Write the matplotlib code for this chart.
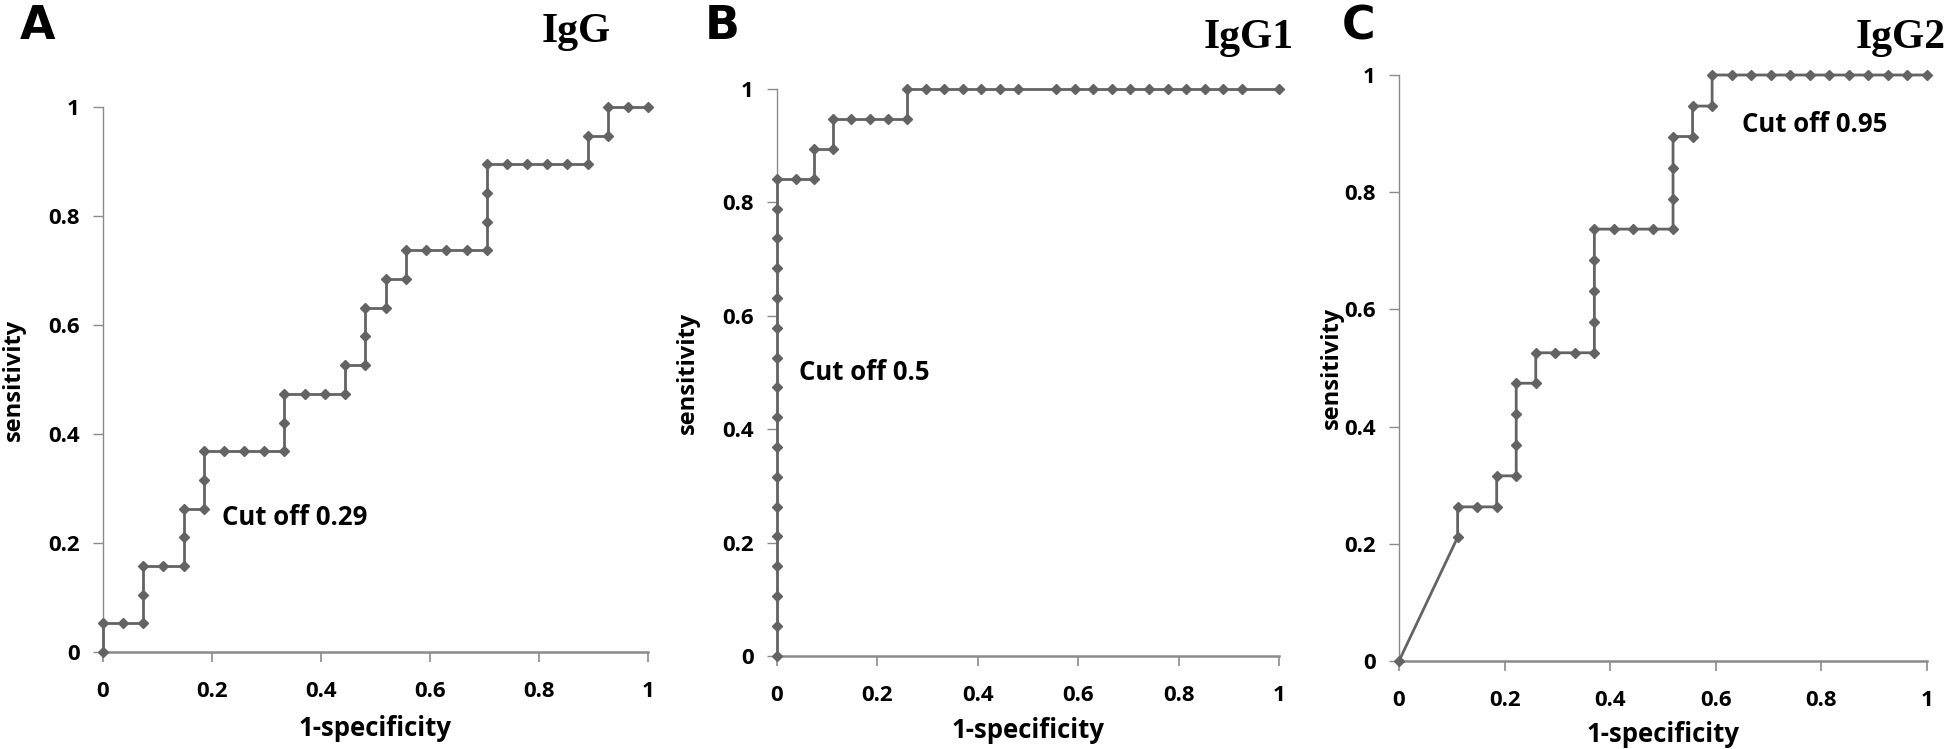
import matplotlib
matplotlib.use("Agg")
import matplotlib.pyplot as plt

# ---------------- data ----------------
igg_x = [0, 0, 0.037, 0.074, 0.074, 0.074, 0.111, 0.148, 0.148, 0.148, 0.185, 0.185, 0.185,
         0.222, 0.259, 0.296, 0.333, 0.333, 0.333, 0.370, 0.407, 0.444, 0.444, 0.481, 0.481,
         0.481, 0.519, 0.519, 0.556, 0.556, 0.593, 0.630, 0.667, 0.704, 0.704, 0.704, 0.704,
         0.741, 0.778, 0.815, 0.852, 0.889, 0.889, 0.926, 0.926, 0.963, 1.0]
igg_y = [0, 0.053, 0.053, 0.053, 0.105, 0.158, 0.158, 0.158, 0.211, 0.263, 0.263, 0.316, 0.368,
         0.368, 0.368, 0.368, 0.368, 0.421, 0.474, 0.474, 0.474, 0.474, 0.526, 0.526, 0.579,
         0.632, 0.632, 0.684, 0.684, 0.737, 0.737, 0.737, 0.737, 0.737, 0.789, 0.842, 0.895,
         0.895, 0.895, 0.895, 0.895, 0.895, 0.947, 0.947, 1.0, 1.0, 1.0]

igg1_x = [0] * 17 + [0.037, 0.074, 0.074, 0.111, 0.111, 0.148, 0.185, 0.222, 0.259, 0.259,
                     0.296, 0.333, 0.370, 0.407, 0.444, 0.481, 0.556, 0.593, 0.630, 0.667,
                     0.704, 0.741, 0.778, 0.815, 0.852, 0.889, 0.926, 1.0]
igg1_y = [0, 0.053, 0.105, 0.158, 0.211, 0.263, 0.316, 0.368, 0.421, 0.474, 0.526, 0.579,
          0.632, 0.684, 0.737, 0.789, 0.842,
          0.842, 0.842, 0.895, 0.895, 0.947, 0.947, 0.947, 0.947, 0.947, 1.0] + [1.0] * 18

igg2_x = [0, 0.111, 0.111, 0.148, 0.185, 0.185, 0.222, 0.222, 0.222, 0.222, 0.259, 0.259,
          0.296, 0.333, 0.370, 0.370, 0.370, 0.370, 0.370, 0.407, 0.444, 0.481, 0.519, 0.519,
          0.519, 0.519, 0.556, 0.556, 0.593, 0.593, 0.630, 0.667, 0.704, 0.741, 0.778, 0.815,
          0.852, 0.889, 0.926, 0.963, 1.0]
igg2_y = [0, 0.211, 0.263, 0.263, 0.263, 0.316, 0.316, 0.368, 0.421, 0.474, 0.474, 0.526,
          0.526, 0.526, 0.526, 0.579, 0.632, 0.684, 0.737, 0.737, 0.737, 0.737, 0.737, 0.789,
          0.842, 0.895, 0.895, 0.947, 0.947, 1.0] + [1.0] * 11

panel_letters = ["A", "B", "C"]
titles = ["IgG", "IgG1", "IgG2"]
cutoff_texts = ["Cut off 0.29", "Cut off 0.5", "Cut off 0.95"]
cutoff_pos = [(0.218, 0.246), (0.043, 0.50), (0.65, 0.915)]
ticks = [0, 0.2, 0.4, 0.6, 0.8, 1]
tick_labels = ["0", "0.2", "0.4", "0.6", "0.8", "1"]
xlabel = "1-specificity"
ylabel = "sensitivity"

# ---------------- figure ----------------
W, H = 1946, 749
fig = plt.figure(figsize=(W / 100, H / 100), dpi=100)

# axes boxes in pixels: left, right, top(y=1), bottom(y=0)
boxes = [(103, 648, 107, 652), (777, 1279, 89, 656), (1399, 1927, 75, 661)]
letter_pos = [(38, 39), (722, 39), (1359, 39)]
title_pos = [(576, 32), (1249, 38), (1901, 38)]
ylabel_x = [14, 688, 1332]
xlabel_y = [728, 731, 735]

series = [(igg_x, igg_y), (igg1_x, igg1_y), (igg2_x, igg2_y)]

line_col = "#636363"
axis_col = "#8a8a8a"
tick_font = ["Open Sans", "DejaVu Sans"]
title_font = ["DejaVu Serif Condensed", "Liberation Serif", "DejaVu Serif"]

for i in range(3):
    l, r, t, b = boxes[i]
    ax = fig.add_axes([l / W, 1 - b / H, (r - l) / W, (b - t) / H])
    xs, ys = series[i]
    ax.plot(xs, ys, color=line_col, lw=2.0, marker="D", ms=5.5,
            markerfacecolor=line_col, markeredgecolor=line_col, clip_on=False, zorder=3)
    ax.set_xlim(0, 1)
    ax.set_ylim(0, 1)
    for s in ["top", "right"]:
        ax.spines[s].set_visible(False)
    ax.spines["left"].set_color(axis_col)
    ax.spines["left"].set_linewidth(1.0)
    ax.spines["bottom"].set_color(axis_col)
    ax.spines["bottom"].set_linewidth(1.8)
    ax.set_xticks(ticks)
    ax.set_yticks(ticks)
    ax.set_xticklabels(tick_labels, fontfamily=tick_font, fontweight="bold", fontsize=16)
    ax.set_yticklabels(tick_labels, fontfamily=tick_font, fontweight="bold", fontsize=16)
    ax.tick_params(axis="x", direction="out", length=7, width=1.2, color=axis_col, pad=14)
    ax.tick_params(axis="y", direction="out", length=7, width=1.0, color=axis_col, pad=10)
    fig.text((l + r) / 2 / W, 1 - xlabel_y[i] / H, xlabel, fontfamily=tick_font,
             fontweight="bold", fontsize=18.5, ha="center", va="center")
    ax.text(cutoff_pos[i][0], cutoff_pos[i][1], cutoff_texts[i], fontfamily=tick_font,
            fontweight="bold", fontsize=18.5, ha="left", va="center")
    fig.text(ylabel_x[i] / W, 1 - ((t + b) / 2) / H, ylabel, rotation=90,
             fontfamily=tick_font, fontweight="bold", fontsize=17, ha="center", va="center")
    fig.text(letter_pos[i][0] / W, 1 - letter_pos[i][1] / H, panel_letters[i],
             fontfamily=["Liberation Sans Narrow", "DejaVu Sans"], fontweight="bold",
             fontsize=33, ha="center", va="baseline")
    fig.text(title_pos[i][0] / W, 1 - title_pos[i][1] / H, titles[i],
             fontfamily=title_font, fontweight="bold", fontsize=30,
             ha="center", va="center")

fig.savefig("out.png", dpi=100, facecolor="white")
